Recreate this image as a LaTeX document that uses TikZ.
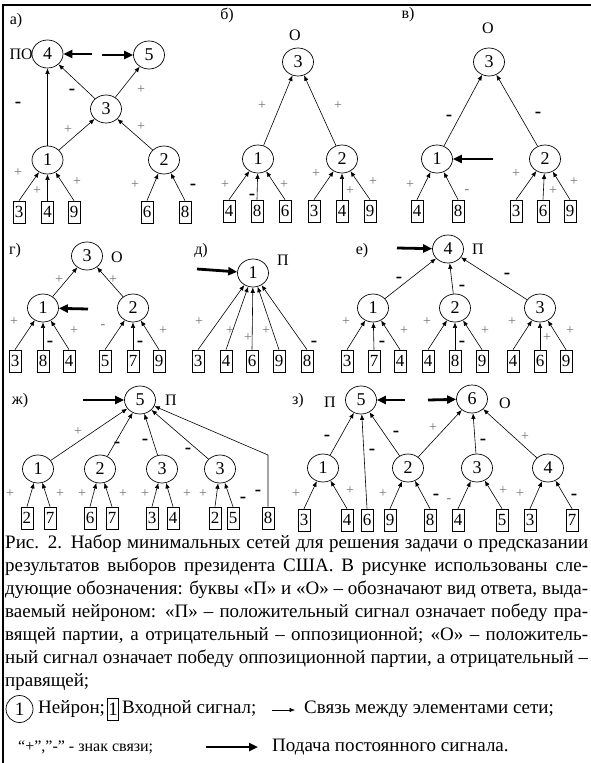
\documentclass[tikz,border=0pt]{standalone}
\usepackage{fontspec}
\setmainfont{Liberation Serif}
\usetikzlibrary{arrows.meta,shapes.geometric}
\begin{document}
\begin{tikzpicture}[x=1pt,y=-1pt]
\tikzset{
 neuron/.style={ellipse, draw, line width=0.7pt, minimum width=31pt, minimum height=28pt, inner sep=0pt, font=\fontsize{18}{18}\selectfont},
 inbox/.style={rectangle, draw, line width=0.7pt, minimum width=12pt, minimum height=22pt, inner sep=0.5pt, font=\fontsize{17}{17}\selectfont},
 conn/.style={-{Latex[length=5.5pt,width=4.5pt]}, line width=0.6pt},
 feed/.style={-{Triangle[length=9pt,width=8pt]}, line width=2.8pt},
 psgn/.style={font=\fontsize{14}{14}\selectfont, text=black!55, inner sep=0pt},
 nsgn/.style={font=\bfseries\fontsize{19}{19}\selectfont, inner sep=0pt},
 lsgn/.style={font=\fontsize{14}{14}\selectfont, text=black!55, inner sep=0pt},
 lbl/.style={font=\fontsize{16}{16}\selectfont, inner sep=0pt},
 capline/.style={anchor=west, inner sep=0pt, font=\fontsize{19}{23}\selectfont},
}
\useasboundingbox (0,0) rectangle (591,763);
\fill[white] (0,0) rectangle (591,763);
\draw[line width=2.5pt] (3,763) -- (3,5) -- (591,5);

% ---------- a)
\node[lbl] (aL) at (16,21) {а)};
\node[neuron] (a4) at (47.5,54) {4};
\node[lbl, anchor=east] (aPO) at (33,54) {ПО};
\node[neuron] (a5) at (149,55) {5};
\node[neuron] (a3) at (106,109) {3};
\node[neuron] (a1) at (47.5,160) {1};
\node[neuron] (a2) at (164,160) {2};
\node[inbox] (ai3) at (19,212) {3};
\node[inbox] (ai4) at (47.5,212) {4};
\node[inbox] (ai9) at (74,212) {9};
\node[inbox] (ai6) at (147,212) {6};
\node[inbox] (ai8) at (185,212) {8};
\coordinate (af1) at (92,54);
\coordinate (af2) at (102,55);
\draw[feed] (af1) -- (a4);
\draw[feed] (af2) -- (a5);
\draw[conn] (a1) -- (a4);
\draw[conn] (a3) -- (a4);
\draw[conn] (a3) -- (a5);
\draw[conn] (a1) -- (a3);
\draw[conn] (a2) -- (a3);
\draw[conn] (ai3.north) -- (a1);
\draw[conn] (ai4.north) -- (a1);
\draw[conn] (ai9.north) -- (a1);
\draw[conn] (ai6.north) -- (a2);
\draw[conn] (ai8.north) -- (a2);
\node[nsgn] (as1) at (18,105) {-};
\node[nsgn] (as2) at (72,92) {-};
\node[psgn] (as3) at (141,90) {+};
\node[psgn] (as4) at (68,130) {+};
\node[psgn] (as5) at (141,127) {+};
\node[psgn] (as6) at (18,173) {+};
\node[psgn] (as7) at (37,191) {+};
\node[psgn] (as8) at (77,182) {+};
\node[psgn] (as9) at (135,185) {+};
\node[nsgn] (as10) at (193,187) {-};

% ---------- b)
\node[lbl] (bL) at (227,15) {б)};
\node[lbl] (bO) at (295,35) {О};
\node[neuron] (b3) at (298,62) {3};
\node[neuron] (b1) at (258,159) {1};
\node[neuron] (b2) at (342,159) {2};
\node[inbox] (bi4) at (229,211) {4};
\node[inbox] (bi8) at (257,211) {8};
\node[inbox] (bi6) at (285,211) {6};
\node[inbox] (bi3) at (314,211) {3};
\node[inbox] (bi4b) at (342,211) {4};
\node[inbox] (bi9) at (370,211) {9};
\draw[conn] (b1) -- (b3);
\draw[conn] (b2) -- (b3);
\draw[conn] (bi4.north) -- (b1);
\draw[conn] (bi8.north) -- (b1);
\draw[conn] (bi6.north) -- (b1);
\draw[conn] (bi3.north) -- (b2);
\draw[conn] (bi4b.north) -- (b2);
\draw[conn] (bi9.north) -- (b2);
\node[psgn] (bs1) at (262,106) {+};
\node[psgn] (bs2) at (338,106) {+};
\node[psgn] (bs3) at (225,185) {+};
\node[nsgn] (bs4) at (252,197) {-};
\node[psgn] (bs5) at (284,185) {+};
\node[psgn] (bs6) at (316,174) {+};
\node[psgn] (bs7) at (350,191) {+};
\node[psgn] (bs8) at (373,182) {+};

% ---------- v)
\node[lbl] (cL) at (408,15) {в)};
\node[lbl] (cO) at (488,28) {О};
\node[neuron] (c3) at (489,62) {3};
\node[neuron] (c1) at (437,159) {1};
\node[neuron] (c2) at (545,159) {2};
\node[inbox] (ci4) at (417,211) {4};
\node[inbox] (ci8) at (458,211) {8};
\node[inbox] (ci3) at (516,211) {3};
\node[inbox] (ci6) at (543,211) {6};
\node[inbox] (ci9) at (570,211) {9};
\coordinate (cf) at (493,159);
\draw[feed] (cf) -- (c1);
\draw[conn] (c1) -- (c3);
\draw[conn] (c2) -- (c3);
\draw[conn] (ci4.north) -- (c1);
\draw[conn] (ci8.north) -- (c1);
\draw[conn] (ci3.north) -- (c2);
\draw[conn] (ci6.north) -- (c2);
\draw[conn] (ci9.north) -- (c2);
\node[nsgn] (cs1) at (449,118) {-};
\node[nsgn] (cs2) at (538,115) {-};
\node[psgn] (cs3) at (410,185) {+};
\node[lsgn] (cs4) at (467,192) {-};
\node[psgn] (cs5) at (516,174) {+};
\node[psgn] (cs6) at (553,191) {+};
\node[psgn] (cs7) at (574,182) {+};

% ---------- g)
\node[lbl] (dL) at (15,251) {г)};
\node[neuron] (d3) at (87,256) {3};
\node[lbl] (dO) at (117,257) {О};
\node[neuron] (d1) at (43,308) {1};
\node[neuron] (d2) at (133,308) {2};
\node[inbox] (di3) at (15,361) {3};
\node[inbox] (di8) at (43,361) {8};
\node[inbox] (di4) at (69,361) {4};
\node[inbox] (di5) at (105,361) {5};
\node[inbox] (di7) at (133,361) {7};
\node[inbox] (di9) at (159,361) {9};
\coordinate (df) at (88,309);
\draw[feed] (df) -- (d1);
\draw[conn] (d1) -- (d3);
\draw[conn] (d2) -- (d3);
\draw[conn] (di3.north) -- (d1);
\draw[conn] (di8.north) -- (d1);
\draw[conn] (di4.north) -- (d1);
\draw[conn] (di5.north) -- (d2);
\draw[conn] (di7.north) -- (d2);
\draw[conn] (di9.north) -- (d2);
\node[psgn] (ds1) at (59,280) {+};
\node[psgn] (ds2) at (113,280) {+};
\node[psgn] (ds3) at (14,322) {+};
\node[nsgn] (ds4) at (50,344) {-};
\node[psgn] (ds5) at (74,331) {+};
\node[lsgn] (ds6) at (103,327) {-};
\node[nsgn] (ds7) at (140,344) {-};
\node[psgn] (ds8) at (163,331) {+};

% ---------- d)
\node[lbl] (eL) at (201,251) {д)};
\node[neuron] (e1) at (253,273) {1};
\node[lbl] (eP) at (283,260) {П};
\node[inbox] (ei3) at (198,361) {3};
\node[inbox] (ei4) at (226,361) {4};
\node[inbox] (ei6) at (252,361) {6};
\node[inbox] (ei9) at (279,361) {9};
\node[inbox] (ei8) at (307,361) {8};
\coordinate (ef) at (197,269);
\draw[feed] (ef) -- (e1);
\draw[conn] (ei3.north) -- (e1);
\draw[conn] (ei4.north) -- (e1);
\draw[conn] (ei6.north) -- (e1);
\draw[conn] (ei9.north) -- (e1);
\draw[conn] (ei8.north) -- (e1);
\node[psgn] (es1) at (199,322) {+};
\node[psgn] (es2) at (230,331) {+};
\node[psgn] (es3) at (248,338) {+};
\node[psgn] (es4) at (266,331) {+};
\node[nsgn] (es5) at (314,344) {-};

% ---------- e)
\node[lbl] (fL) at (362,251) {е)};
\node[neuron] (f4) at (448,249) {4};
\node[lbl] (fP) at (478,249) {П};
\node[neuron] (f1) at (373,308) {1};
\node[neuron] (f2) at (455,308) {2};
\node[neuron] (f3) at (540,308) {3};
\node[inbox] (fi3) at (347,361) {3};
\node[inbox] (fi7) at (374,361) {7};
\node[inbox] (fi4) at (400,361) {4};
\node[inbox] (fi4b) at (428,361) {4};
\node[inbox] (fi8) at (455,361) {8};
\node[inbox] (fi9) at (482,361) {9};
\node[inbox] (fi4c) at (513,361) {4};
\node[inbox] (fi6) at (540,361) {6};
\node[inbox] (fi9b) at (566,361) {9};
\coordinate (ff) at (397,248);
\draw[feed] (ff) -- (f4);
\draw[conn] (f1) -- (f4);
\draw[conn] (f2) -- (f4);
\draw[conn] (f3) -- (f4);
\draw[conn] (fi3.north) -- (f1);
\draw[conn] (fi7.north) -- (f1);
\draw[conn] (fi4.north) -- (f1);
\draw[conn] (fi4b.north) -- (f2);
\draw[conn] (fi8.north) -- (f2);
\draw[conn] (fi9.north) -- (f2);
\draw[conn] (fi4c.north) -- (f3);
\draw[conn] (fi6.north) -- (f3);
\draw[conn] (fi9b.north) -- (f3);
\node[nsgn] (fs1) at (399,280) {-};
\node[nsgn] (fs2) at (462,288) {-};
\node[nsgn] (fs3) at (507,276) {-};
\node[psgn] (fs4) at (346,322) {+};
\node[nsgn] (fs5) at (382,344) {-};
\node[psgn] (fs6) at (404,331) {+};
\node[psgn] (fs7) at (427,322) {+};
\node[nsgn] (fs8) at (462,344) {-};
\node[psgn] (fs9) at (485,331) {+};
\node[psgn] (fs10) at (512,322) {+};
\node[psgn] (fs11) at (547,338) {+};
\node[psgn] (fs12) at (570,331) {+};

% ---------- zh)
\node[lbl] (gL) at (20,401) {ж)};
\node[neuron] (g5) at (140,400) {5};
\node[lbl] (gP) at (171,400) {П};
\node[neuron] (g1) at (38,469) {1};
\node[neuron] (g2) at (100,469) {2};
\node[neuron] (g3) at (162,469) {3};
\node[neuron] (g3b) at (220,469) {3};
\node[inbox] (gi2) at (27,518) {2};
\node[inbox] (gi7) at (50,518) {7};
\node[inbox] (gi6) at (90,518) {6};
\node[inbox] (gi7b) at (112,518) {7};
\node[inbox] (gi3) at (152,518) {3};
\node[inbox] (gi4) at (173,518) {4};
\node[inbox] (gi2b) at (215,518) {2};
\node[inbox] (gi5) at (233,518) {5};
\node[inbox] (gi8) at (268,518) {8};
\coordinate (gf) at (83,400);
\coordinate (gbend) at (268,455);
\draw[feed] (gf) -- (g5);
\draw[conn] (g1) -- (g5);
\draw[conn] (g2) -- (g5);
\draw[conn] (g3) -- (g5);
\draw[conn] (g3b) -- (g5);
\draw[conn] (gi8.north) -- (gbend) -- (g5);
\draw[conn] (gi2.north) -- (g1);
\draw[conn] (gi7.north) -- (g1);
\draw[conn] (gi6.north) -- (g2);
\draw[conn] (gi7b.north) -- (g2);
\draw[conn] (gi3.north) -- (g3);
\draw[conn] (gi4.north) -- (g3);
\draw[conn] (gi2b.north) -- (g3b);
\draw[conn] (gi5.north) -- (g3b);
\node[psgn] (gs1) at (78,432) {+};
\node[nsgn] (gs2) at (117,445) {-};
\node[nsgn] (gs3) at (145,442) {-};
\node[nsgn] (gs4) at (188,451) {-};
\node[nsgn] (gs5) at (258,493) {-};
\node[psgn] (gs6) at (10,494) {+};
\node[psgn] (gs7) at (60,494) {+};
\node[psgn] (gs8) at (82,494) {+};
\node[psgn] (gs9) at (123,494) {+};
\node[psgn] (gs10) at (145,494) {+};
\node[psgn] (gs11) at (187,494) {+};
\node[psgn] (gs12) at (203,494) {+};
\node[nsgn] (gs13) at (243,500) {-};

% ---------- z)
\node[lbl] (hL) at (298,401) {з)};
\node[lbl] (hP) at (330,402) {П};
\node[neuron] (h5) at (361,400) {5};
\node[neuron] (h6) at (472,399) {6};
\node[lbl] (hO) at (505,403) {О};
\node[neuron] (h1) at (323,468) {1};
\node[neuron] (h2) at (408,468) {2};
\node[neuron] (h3) at (477,468) {3};
\node[neuron] (h4) at (548,468) {4};
\node[inbox] (hi3) at (304,520) {3};
\node[inbox] (hi4) at (347,520) {4};
\node[inbox] (hi6) at (367,520) {6};
\node[inbox] (hi9) at (390,520) {9};
\node[inbox] (hi8) at (430,520) {8};
\node[inbox] (hi4b) at (458,520) {4};
\node[inbox] (hi5) at (502,520) {5};
\node[inbox] (hi3b) at (530,520) {3};
\node[inbox] (hi7) at (572,520) {7};
\coordinate (hf1) at (405,400);
\coordinate (hf2) at (428,400);
\draw[feed] (hf1) -- (h5);
\draw[feed] (hf2) -- (h6);
\draw[conn] (h1) -- (h5);
\draw[conn] (hi6.north) -- (h5);
\draw[conn] (h2) -- (h5);
\draw[conn] (h2) -- (h6);
\draw[conn] (h3) -- (h6);
\draw[conn] (h4) -- (h6);
\draw[conn] (hi3.north) -- (h1);
\draw[conn] (hi4.north) -- (h1);
\draw[conn] (hi9.north) -- (h2);
\draw[conn] (hi8.north) -- (h2);
\draw[conn] (hi4b.north) -- (h3);
\draw[conn] (hi5.north) -- (h3);
\draw[conn] (hi3b.north) -- (h4);
\draw[conn] (hi7.north) -- (h4);
\node[nsgn] (hs1) at (327,438) {-};
\node[nsgn] (hs2) at (372,452) {-};
\node[nsgn] (hs3) at (396,434) {-};
\node[psgn] (hs4) at (433,428) {+};
\node[nsgn] (hs5) at (483,442) {-};
\node[psgn] (hs6) at (525,437) {+};
\node[psgn] (hs7) at (296,494) {+};
\node[psgn] (hs8) at (350,491) {+};
\node[psgn] (hs9) at (383,494) {+};
\node[nsgn] (hs10) at (436,497) {-};
\node[lsgn] (hs11) at (449,501) {-};
\node[psgn] (hs12) at (503,491) {+};
\node[psgn] (hs13) at (520,494) {+};
\node[nsgn] (hs14) at (574,497) {-};

% ---------- caption
\node[capline] (cap1) at (5,544) {\makebox[583pt][s]{Рис. 2. Набор минимальных сетей для решения задачи о предсказании}};
\node[capline] (cap2) at (5,567) {\makebox[583pt][s]{результатов выборов президента США. В рисунке использованы сле-}};
\node[capline] (cap3) at (5,590) {\makebox[583pt][s]{дующие обозначения: буквы «П» и «О» – обозначают вид ответа, выда-}};
\node[capline] (cap4) at (5,613) {\makebox[583pt][s]{ваемый нейроном: «П» – положительный сигнал означает победу пра-}};
\node[capline] (cap5) at (5,636) {\makebox[583pt][s]{вящей партии, а отрицательный – оппозиционной; «О» – положитель-}};
\node[capline] (cap6) at (5,659) {\makebox[583pt][s]{ный сигнал означает победу оппозиционной партии, а отрицательный –}};
\node[capline] (cap7) at (5,682) {правящей;};

% ---------- legend
\node[ellipse, draw, line width=0.7pt, minimum width=27pt, minimum height=27pt, inner sep=0pt, font=\fontsize{19}{19}\selectfont] (lgn) at (19.5,709) {1};
\node[capline] (lgt1) at (38,709) {Нейрон;};
\node[rectangle, draw, line width=0.7pt, minimum width=11pt, minimum height=22pt, inner sep=0.5pt, font=\fontsize{19}{19}\selectfont] (lgb) at (113,709) {1};
\node[capline] (lgt2) at (122,709) {Входной сигнал;};
\coordinate (lga1) at (272,710);
\coordinate (lga2) at (295,710);
\draw[conn] (lga1) -- (lga2);
\node[capline] (lgt3) at (304,709) {Связь между элементами сети;};
\node[capline, font=\fontsize{16}{16}\selectfont] (lgt4) at (18,747) {“+”,”-” - знак связи;};
\coordinate (lgf1) at (206,747);
\coordinate (lgf2) at (258,747);
\draw[feed] (lgf1) -- (lgf2);
\node[capline] (lgt5) at (272,747) {Подача постоянного сигнала.};
\end{tikzpicture}
\end{document}
